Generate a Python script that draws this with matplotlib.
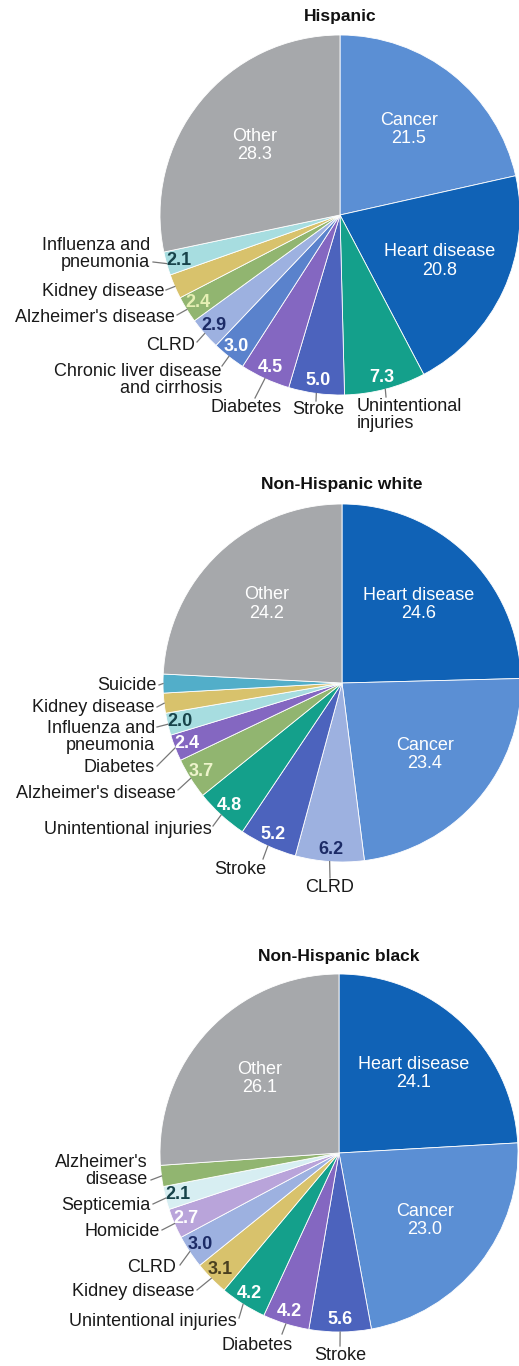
import numpy as np
import matplotlib
matplotlib.use("Agg")
import matplotlib.pyplot as plt

plt.rcParams['font.family'] = ['Liberation Sans', 'DejaVu Sans']

W, H = 519, 1366

# Data: percent of deaths by cause
hisp_causes = ["Cancer", "Heart disease", "Unintentional\ninjuries", "Stroke", "Diabetes",
               "Chronic liver disease\nand cirrhosis", "CLRD", "Alzheimer's disease",
               "Kidney disease", "Influenza and\npneumonia", "Other"]
hisp_values = [21.5, 20.8, 7.3, 5.0, 4.5, 3.0, 2.9, 2.4, 2.2, 2.1, 28.3]

white_causes = ["Heart disease", "Cancer", "CLRD", "Stroke", "Unintentional injuries",
                "Alzheimer's disease", "Diabetes", "Influenza and\npneumonia",
                "Kidney disease", "Suicide", "Other"]
white_values = [24.6, 23.4, 6.2, 5.2, 4.8, 3.7, 2.4, 2.0, 1.8, 1.7, 24.2]

black_causes = ["Heart disease", "Cancer", "Stroke", "Diabetes", "Unintentional injuries",
                "Kidney disease", "CLRD", "Homicide", "Septicemia",
                "Alzheimer's\ndisease", "Other"]
black_values = [24.1, 23.0, 5.6, 4.2, 4.2, 3.1, 3.0, 2.7, 2.1, 1.9, 26.1]

# colours
C = {"Cancer": "#5b8fd4", "Heart": "#1062b6", "Unint": "#14a08b", "Stroke": "#4c63bd",
     "Diabetes": "#8467c1", "Liver": "#5a82cc", "CLRD": "#9db1e0", "Alz": "#91b570",
     "Kidney": "#d8c26c", "Flu": "#a7dde0", "Suicide": "#52aec9", "Homicide": "#b9a4da",
     "Septic": "#d7eef2", "Other": "#a6a8ab"}

hisp_colors = [C["Cancer"], C["Heart"], C["Unint"], C["Stroke"], C["Diabetes"], C["Liver"],
               C["CLRD"], C["Alz"], C["Kidney"], C["Flu"], C["Other"]]
white_colors = [C["Heart"], C["Cancer"], C["CLRD"], C["Stroke"], C["Unint"], C["Alz"],
                C["Diabetes"], C["Flu"], C["Kidney"], C["Suicide"], C["Other"]]
black_colors = [C["Heart"], C["Cancer"], C["Stroke"], C["Diabetes"], C["Unint"], C["Kidney"],
                C["CLRD"], C["Homicide"], C["Septic"], C["Alz"], C["Other"]]

NAVY = "#1c2b66"
hisp_vcolors = ["white"] * 5 + ["white", NAVY, "#e6efb4", None, "#17434a", "white"]
white_vcolors = ["white", "white", NAVY, "white", "white", "#eef4cc", "white", "#17434a",
                 None, None, "white"]
black_vcolors = ["white"] * 5 + ["#4a4020", NAVY, "white", "#17434a", None, "white"]

# outside name labels: (x, y, ha, leader start x, leader start y) in pixels, None = inside
hisp_names = [None, None,
              (357, 415, 'left', 386, 397),
              (318, 410, 'center', 316, 401),
              (246, 408, 'center', 255, 398),
              (222, 380, 'right', 222, 366),
              (195, 346, 'right', 197, 342),
              (175, 318, 'right', 177, 315),
              (164, 292, 'right', 166, 290),
              (150, 254, 'right', 153, 262),
              None]
white_names = [None, None,
               (330, 888, 'center', 330, 878),
               (240, 870, 'center', 263, 859),
               (212, 830, 'right', 213, 826),
               (176, 793, 'right', 178, 790),
               (155, 767, 'right', 157, 766),
               (155, 737, 'right', 157, 727),
               (155, 707, 'right', 157, 707),
               (157, 685, 'right', 159, 685),
               None]
black_names = [None, None,
               (340, 1355, 'center', 340, 1346),
               (257, 1345, 'center', 282, 1334),
               (237, 1322, 'right', 239, 1318),
               (195, 1292, 'right', 197, 1290),
               (176, 1268, 'right', 180, 1265),
               (160, 1232, 'right', 162, 1230),
               (150, 1205, 'right', 153, 1204),
               (148, 1171, 'right', 151, 1180),
               None]

fig = plt.figure(figsize=(W / 100, H / 100), dpi=100)
ax = fig.add_axes([0, 0, 1, 1])


def draw_pie(title, ty, causes, values, colors, vcolors, names, cx, cy, r):
    wedges, _ = ax.pie(values, colors=colors, startangle=90, counterclock=False,
                       center=(cx, H - cy), radius=r,
                       wedgeprops=dict(edgecolor="white", linewidth=0.6))
    ax.text(cx, H - ty, title, ha="center", va="center", fontsize=12.5,
            fontweight="bold", color="#111111")
    for w, cause, val, vc, spec in zip(wedges, causes, values, vcolors, names):
        mid = np.deg2rad((w.theta1 + w.theta2) / 2)
        if spec is None:
            x = cx + 0.61 * r * np.cos(mid)
            y = H - cy + 0.61 * r * np.sin(mid)
            ax.text(x, y, f"{cause}\n{val:.1f}", ha="center", va="center",
                    fontsize=13, color="white", linespacing=1.1)
            continue
        if vc is not None:
            x = cx + 0.93 * r * np.cos(mid)
            y = H - cy + 0.93 * r * np.sin(mid)
            ax.text(x, y, f"{val:.1f}", ha="center", va="center", fontsize=13,
                    fontweight="bold", color=vc)
        tx, tyy, ha, lx, ly = spec
        ex = cx + r * np.cos(mid)
        ey = H - cy + r * np.sin(mid)
        ax.plot([lx, ex], [H - ly, ey], color="#777777", lw=0.9, zorder=1)
        ax.text(tx, H - tyy, cause, ha=ha, va="center", fontsize=13,
                color="#1a1a1a", linespacing=0.95)


draw_pie("Hispanic", 17, hisp_causes, hisp_values, hisp_colors, hisp_vcolors,
         hisp_names, 340, 215, 180)
draw_pie("Non-Hispanic white", 485, white_causes, white_values, white_colors,
         white_vcolors, white_names, 342, 683, 179)
draw_pie("Non-Hispanic black", 957, black_causes, black_values, black_colors,
         black_vcolors, black_names, 339, 1153, 179)

ax.set_xlim(0, W)
ax.set_ylim(0, H)
ax.set_aspect("auto")
ax.axis("off")

fig.savefig("out.png", dpi=100)
